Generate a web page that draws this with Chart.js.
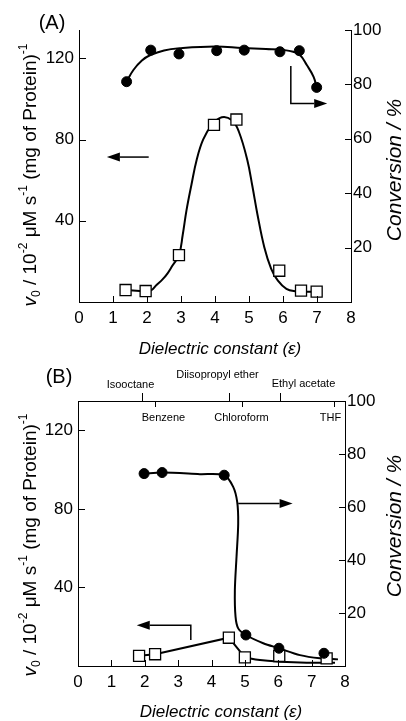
<!DOCTYPE html>
<html>
<head>
<meta charset="utf-8">
<script src="https://cdn.jsdelivr.net/npm/chart.js@4.4.0/dist/chart.umd.min.js"></script>
<style>
html, body { margin: 0; padding: 0; background: #fff; }
#wrap { position: relative; width: 406px; height: 721px; overflow: hidden; }
canvas { position: absolute; left: 0; }
#chartA { top: 0; }
#chartB { top: 360px; }
</style>
</head>
<body>
<div id="wrap">
  <canvas id="chartA" width="406" height="360"></canvas>
  <canvas id="chartB" width="406" height="361"></canvas>
</div>
<script>
// ---- Panel A data (x = dielectric constant) ----
const A_CONV_EPS = [1.40, 2.11, 2.94, 4.05, 4.86, 5.91, 6.48, 6.99];
const A_CONV = [81.0, 92.6, 91.2, 92.4, 92.6, 92.0, 92.4, 78.9];
const A_RATE_EPS = [1.37, 1.96, 2.94, 3.97, 4.63, 5.89, 6.53, 6.99];
const A_RATE = [5.9, 5.4, 23.1, 87.3, 89.9, 15.4, 5.6, 5.1];
// fitted curves
const A_CONV_FIT_EPS = [1.40, 1.60, 1.85, 2.10, 2.50, 3.00, 4.00, 4.80, 5.50, 6.05, 6.30, 6.50, 6.70, 6.90, 6.99];
const A_CONV_FIT = [81.0, 85.3, 88.8, 90.8, 92.5, 93.3, 93.9, 93.4, 93.0, 92.6, 92.0, 90.8, 87.1, 82.8, 78.9];
const A_RATE_FIT_EPS = [1.37, 1.96, 2.13, 2.28, 2.45, 2.60, 2.75, 2.94, 3.05, 3.16, 3.31, 3.46, 3.65, 3.90, 4.20, 4.50, 4.70, 4.95, 5.10, 5.25, 5.45, 5.65, 5.85, 6.10, 6.40, 6.55, 6.99];
const A_RATE_FIT = [5.9, 5.4, 5.9, 8.4, 11.0, 14.0, 18.0, 23.1, 33.0, 45.0, 58.0, 70.0, 80.0, 87.0, 91.0, 89.5, 84.0, 70.0, 57.0, 43.0, 27.0, 16.5, 10.5, 6.5, 5.2, 5.1, 5.0];

// ---- Panel B data ----
const B_CONV_EPS = [1.98, 2.52, 4.38, 5.03, 6.02, 7.37];
const B_CONV = [72.6, 73.0, 72.0, 11.7, 6.7, 4.8];
const B_RATE_EPS = [1.83, 2.31, 4.52, 5.00, 6.03, 7.45];
const B_RATE = [5.2, 6.0, 14.4, 4.4, 5.1, 3.9];
const B_CONV_FIT_EPS = [1.98, 2.52, 3.65, 4.38, 4.65, 4.77, 4.80, 4.75, 4.70, 4.72, 4.80, 5.03, 5.55, 6.02, 6.65, 7.25, 7.79];
const B_CONV_FIT = [72.6, 73.0, 72.4, 72.0, 67.6, 61.9, 53.8, 41.2, 28.6, 18.6, 14.2, 11.7, 8.6, 6.7, 4.1, 2.9, 2.5];
const B_RATE_FIT_EPS = [1.83, 2.31, 4.52, 5.00, 5.45, 6.05, 6.85, 7.70];
const B_RATE_FIT = [5.2, 6.0, 14.4, 4.4, 3.0, 2.2, 1.7, 1.7];

// solvents marked on the top edge of panel B
const SOLVENTS = ['Isooctane', 'Benzene', 'Diisopropyl ether', 'Chloroform', 'Ethyl acetate', 'THF'];
const SOLVENT_EPS = [1.91, 2.32, 4.53, 4.90, 6.04, 7.68];

const X_TICKS = [0, 1, 2, 3, 4, 5, 6, 7, 8];
const FONT = "'Liberation Sans', Arial, Helvetica, sans-serif";

function pts(xs, ys) {
    return xs.map((x, i) => ({ x, y: ys[i] }));
}

function markerSet(xs, ys, axis, square) {
    return {
        data: pts(xs, ys), yAxisID: axis, order: 0,
        pointStyle: square ? 'rect' : 'circle',
        pointRadius: square ? 7.8 : 5,
        pointBackgroundColor: square ? '#fff' : '#000',
        pointBorderColor: '#000',
        pointBorderWidth: square ? 1.3 : 1,
        showLine: false,
    };
}

function curveSet(xs, ys, axis, tension) {
    return {
        data: pts(xs, ys), yAxisID: axis, order: 1,
        showLine: true, pointRadius: 0, borderColor: '#000', borderWidth: 2,
        tension: tension, fill: false,
    };
}

function drawArrow(ctx, p, head = 13, half = 4.5) {
    const n = p.length;
    const [ex, ey] = p[n - 1];
    const [sx, sy] = p[n - 2];
    const len = Math.hypot(ex - sx, ey - sy);
    const ux = (ex - sx) / len, uy = (ey - sy) / len;
    const bx = ex - ux * head, by = ey - uy * head;
    ctx.beginPath();
    ctx.moveTo(p[0][0], p[0][1]);
    for (let i = 1; i < n - 1; i++) ctx.lineTo(p[i][0], p[i][1]);
    ctx.lineTo(bx, by);
    ctx.stroke();
    ctx.beginPath();
    ctx.moveTo(ex, ey);
    ctx.lineTo(bx - uy * half, by + ux * half);
    ctx.lineTo(bx + uy * half, by - ux * half);
    ctx.closePath();
    ctx.fill();
}

// left axis title with italic v, subscript and superscripts
function drawLeftTitle(ctx, cx, cy) {
    const parts = [
        { t: 'v', style: 'italic ', size: 19, dy: 0 },
        { t: '0', style: '', size: 12, dy: 6 },
        { t: ' / 10', style: '', size: 19, dy: 0 },
        { t: '-2', style: '', size: 12, dy: -7 },
        { t: ' \u03bcM s', style: '', size: 19, dy: 0 },
        { t: '-1', style: '', size: 12, dy: -7 },
        { t: ' (mg of Protein)', style: '', size: 19, dy: 0 },
        { t: '-1', style: '', size: 12, dy: -7 },
    ];
    ctx.save();
    ctx.translate(cx, cy);
    ctx.rotate(-Math.PI / 2);
    ctx.textBaseline = 'middle';
    ctx.textAlign = 'left';
    let total = 0;
    parts.forEach(p => { ctx.font = `${p.style}${p.size}px ${FONT}`; p.w = ctx.measureText(p.t).width; total += p.w; });
    let x = -total / 2;
    parts.forEach(p => {
        ctx.font = `${p.style}${p.size}px ${FONT}`;
        ctx.fillText(p.t, x, p.dy);
        x += p.w;
    });
    ctx.restore();
}

const decor = {
    id: 'decor',
    afterDatasetsDraw(chart, args, o) {
        const { ctx, chartArea: a, scales } = chart;
        ctx.save();
        ctx.strokeStyle = '#000';
        ctx.fillStyle = '#000';
        ctx.lineWidth = 1;

        // inward tick marks
        ctx.beginPath();
        scales.x.ticks.forEach(t => {
            if (t.value <= 0 || t.value >= 8) return;
            const px = Math.round(scales.x.getPixelForValue(t.value)) + 0.5;
            ctx.moveTo(px, a.bottom); ctx.lineTo(px, a.bottom - 6);
        });
        scales.y.ticks.forEach(t => {
            if (t.value <= 0) return;
            const py = Math.round(scales.y.getPixelForValue(t.value)) + 0.5;
            ctx.moveTo(a.left, py); ctx.lineTo(a.left + 7, py);
        });
        scales.y2.ticks.forEach(t => {
            if (t.value <= 0) return;
            const py = Math.round(scales.y2.getPixelForValue(t.value)) + 0.5;
            ctx.moveTo(a.right, py); ctx.lineTo(a.right - 6, py);
        });
        if (o.topBorder) {
            const ty = Math.round(a.top) + 0.5;
            ctx.moveTo(a.left, ty); ctx.lineTo(a.right, ty);
        }
        ctx.stroke();

        // solvent marks on the top edge
        if (o.solvents) {
            ctx.font = `11px ${FONT}`;
            ctx.textAlign = 'center';
            ctx.textBaseline = 'middle';
            ctx.beginPath();
            SOLVENTS.forEach((name, i) => {
                const lay = o.solvents[i];
                const px = Math.round(scales.x.getPixelForValue(SOLVENT_EPS[i])) + 0.5;
                const dir = lay.up ? -1 : 1;
                ctx.moveTo(px, a.top); ctx.lineTo(px, a.top + dir * (lay.up ? 8 : 6));
                ctx.fillText(name, px + lay.dx, a.top + lay.dy);
            });
            ctx.stroke();
        }

        // arrows pointing at the relevant axis
        ctx.lineWidth = 1.5;
        (o.arrows || []).forEach(ar => {
            const sc = scales[ar.axis];
            const p = ar.path.map(([x, y]) => [scales.x.getPixelForValue(x), sc.getPixelForValue(y)]);
            drawArrow(ctx, p);
        });

        // titles and panel letter
        ctx.textAlign = 'center';
        ctx.textBaseline = 'middle';
        ctx.font = `italic 17px ${FONT}`;
        ctx.fillText('Dielectric constant (\u03b5)', o.xTitle[0], o.xTitle[1]);
        ctx.font = `20px ${FONT}`;
        ctx.fillText(o.letter, o.letterPos[0], o.letterPos[1]);
        drawLeftTitle(ctx, o.yTitle[0], o.yTitle[1]);
        ctx.save();
        ctx.translate(o.y2Title[0], o.y2Title[1]);
        ctx.rotate(-Math.PI / 2);
        ctx.font = `italic 21px ${FONT}`;
        ctx.fillText('Conversion / %', 0, 0);
        ctx.restore();
        ctx.restore();
    }
};

function makeChart(el, datasets, L) {
    const tickFont = { family: FONT, size: 17 };
    return new Chart(el, {
        type: 'scatter',
        data: { datasets },
        options: {
            responsive: false,
            animation: false,
            events: [],
            layout: { padding: { top: L.top, left: 0, right: 0, bottom: 0 } },
            plugins: { legend: { display: false }, tooltip: { enabled: false }, decor: L.decor },
            scales: {
                x: {
                    type: 'linear', position: 'bottom', min: 0, max: 8,
                    afterBuildTicks: s => { s.ticks = X_TICKS.map(v => ({ value: v })); },
                    ticks: { color: '#000', font: tickFont, padding: 6, maxRotation: 0, autoSkip: false },
                    grid: { display: false, drawTicks: false },
                    border: { display: true, color: '#000', width: 1 },
                    afterFit: s => { s.height = L.xHeight; },
                },
                y: {
                    type: 'linear', position: 'left', min: 0, max: L.yMax,
                    ticks: { stepSize: 40, includeBounds: false, color: '#000', font: tickFont, padding: 5,
                             callback: v => (v === 0 ? '' : v) },
                    grid: { display: false, drawTicks: false },
                    border: { display: true, color: '#000', width: 1 },
                    afterFit: s => { s.width = L.left; },
                },
                y2: {
                    type: 'linear', position: 'right', min: 0, max: 100,
                    ticks: { stepSize: 20, color: '#000', font: tickFont, padding: 2,
                             callback: v => (v === 0 ? '' : v) },
                    grid: { display: false, drawTicks: false },
                    border: { display: true, color: '#000', width: 1 },
                    afterFit: s => { s.width = L.right; },
                },
            },
        },
        plugins: [decor],
    });
}

makeChart(document.getElementById('chartA'), [
    markerSet(A_CONV_EPS, A_CONV, 'y2', false),
    markerSet(A_RATE_EPS, A_RATE, 'y', true),
    curveSet(A_CONV_FIT_EPS, A_CONV_FIT, 'y2', 0.4),
    curveSet(A_RATE_FIT_EPS, A_RATE_FIT, 'y', 0.4),
], {
    top: 30, left: 79, right: 55, xHeight: 58, yMax: 134,
    decor: {
        topBorder: false,
        letter: '(A)', letterPos: [52, 23],
        xTitle: [220, 349], yTitle: [31, 175], y2Title: [395, 170],
        arrows: [
            { axis: 'y', path: [[2.05, 71.4], [0.82, 71.4]] },
            { axis: 'y2', path: [[6.23, 86.8], [6.23, 73.0], [7.30, 73.0]] },
        ],
    },
});

makeChart(document.getElementById('chartB'), [
    markerSet(B_CONV_EPS, B_CONV, 'y2', false),
    markerSet(B_RATE_EPS, B_RATE, 'y', true),
    curveSet(B_CONV_FIT_EPS, B_CONV_FIT, 'y2', 0.3),
    curveSet(B_RATE_FIT_EPS.slice(0, 4), B_RATE_FIT.slice(0, 4), 'y', 0),
    curveSet(B_RATE_FIT_EPS.slice(3), B_RATE_FIT.slice(3), 'y', 0.4),
], {
    top: 41, left: 78, right: 61, xHeight: 55, yMax: 135,
    decor: {
        topBorder: true,
        letter: '(B)', letterPos: [59, 17],
        xTitle: [221, 352], yTitle: [31, 185], y2Title: [395, 166],
        solvents: [
            { up: true, dx: -12, dy: -16 },
            { up: false, dx: 8, dy: 17 },
            { up: true, dx: -12, dy: -26 },
            { up: false, dx: -1, dy: 17 },
            { up: true, dx: 23, dy: -17 },
            { up: false, dx: -4, dy: 17 },
        ],
        arrows: [
            { axis: 'y2', path: [[4.80, 61.3], [6.43, 61.3]] },
            { axis: 'y', path: [[3.38, 13.2], [3.38, 20.8], [1.76, 20.8]] },
        ],
    },
});
</script>
</body>
</html>
